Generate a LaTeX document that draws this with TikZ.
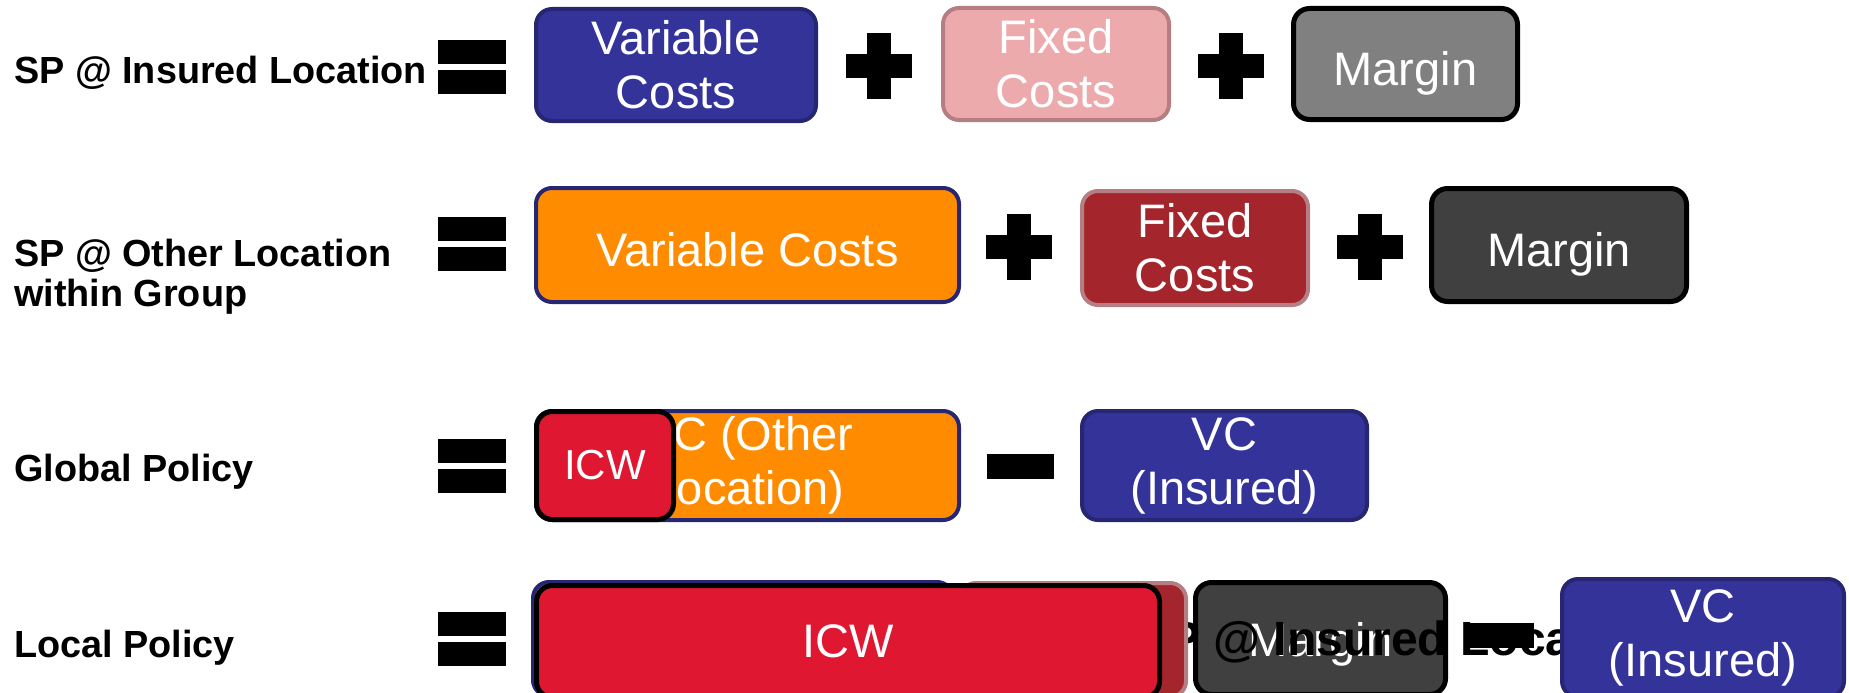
\documentclass[tikz,border=0pt]{standalone}
\usepackage{fontspec}
\setmainfont{Liberation Sans}
\definecolor{navy}{HTML}{262673}
\definecolor{vcblue}{HTML}{333399}
\definecolor{vcorange}{HTML}{FF8C00}
\definecolor{fcpink}{HTML}{ECAAAD}
\definecolor{fcedge}{HTML}{B47E82}
\definecolor{fcdark}{HTML}{A4252B}
\definecolor{mgray}{HTML}{808080}
\definecolor{mdark}{HTML}{404040}
\definecolor{icwred}{HTML}{DF1730}
\begin{document}
\begin{tikzpicture}[x=1pt,y=-1pt,
  box/.style={draw, rounded corners=16pt, line width=4pt, text=white,
    font=\fontsize{47}{54}\selectfont, align=center, inner sep=0pt},
  oneline/.style={text height=45pt, text depth=3pt},
  bluebox/.style={box, fill=vcblue, draw=navy},
  orangebox/.style={box, fill=vcorange, draw=navy},
  pinkbox/.style={box, fill=fcpink, draw=fcedge},
  redfixbox/.style={box, fill=fcdark, draw=fcedge},
  graybox/.style={box, fill=mgray, draw=black, line width=5pt},
  darkbox/.style={box, fill=mdark, draw=black, line width=5pt},
  icwbox/.style={box, fill=icwred, draw=black, line width=5pt},
  lbl/.style={font=\bfseries\fontsize{37.8}{40}\selectfont, inner sep=0pt, anchor=base west, align=left},
  eqbar/.style={fill=black, inner sep=0pt, minimum width=68, minimum height=24},
  hbar/.style={fill=black, inner sep=0pt, minimum width=66, minimum height=24},
  vbar/.style={fill=black, inner sep=0pt, minimum width=24, minimum height=66},
  minusbar/.style={fill=black, inner sep=0pt, minimum width=67, minimum height=25},
  whitetext/.style={text=white, font=\fontsize{47}{54}\selectfont, inner sep=0pt}]
\clip (0,0) rectangle (1849,693);

% row labels
\node[lbl] (l1) at (14,84) {SP @ Insured Location};
\node[lbl, anchor=west] (l2) at (14,277) {SP @ Other Location\\within Group};
\node[lbl] (l3) at (14,481) {Global Policy};
\node[lbl] (l4) at (14,657) {Local Policy};

% equals signs
\node[eqbar] (e1a) at (472,52) {};  \node[eqbar] (e1b) at (472,82) {};
\node[eqbar] (e2a) at (472,229) {}; \node[eqbar] (e2b) at (472,259) {};
\node[eqbar] (e3a) at (472,451) {}; \node[eqbar] (e3b) at (472,481) {};
\node[eqbar] (e4a) at (472,624) {}; \node[eqbar] (e4b) at (472,654) {};

% row 1: insured location
\node[bluebox, minimum width=280, minimum height=112] (vc1) at (676,65) {Variable\\Costs};
\node[hbar] (p1h) at (878.5,66) {}; \node[vbar] (p1v) at (878.5,66) {};
\node[pinkbox, minimum width=226, minimum height=112] (fc1) at (1056,64) {Fixed\\Costs};
\node[hbar] (p2h) at (1230.5,66) {}; \node[vbar] (p2v) at (1230.5,66) {};
\node[graybox, oneline, minimum width=224, minimum height=111] (mg1) at (1405.5,64) {Margin};

% row 2: other location within group
\node[orangebox, oneline, minimum width=423, minimum height=114] (vc2) at (747.5,245) {Variable Costs};
\node[hbar] (p3h) at (1019,247) {}; \node[vbar] (p3v) at (1019,247) {};
\node[redfixbox, minimum width=226, minimum height=114] (fc2) at (1195,248) {Fixed\\Costs};
\node[hbar] (p4h) at (1370,247) {}; \node[vbar] (p4v) at (1370,247) {};
\node[darkbox, oneline, minimum width=255, minimum height=113] (mg2) at (1559,245) {Margin};

% row 3: global policy
\node[orangebox, minimum width=423, minimum height=109] (vc3) at (747.5,465.5) {VC (Other\\Location)};
\node[icwbox, minimum width=137, minimum height=108, font=\fontsize{42}{48}\selectfont] (icw3) at (605,465.5) {ICW};
\node[minusbar] (m3) at (1020,466) {};
\node[bluebox, minimum width=285, minimum height=109] (vi3) at (1224.5,465.5) {VC\\(Insured)};

% row 4: local policy
\node[orangebox, minimum width=420, minimum height=114] (vc4) at (743,639) {};
\node[darkbox, minimum width=250, minimum height=112] (mg4) at (1320.5,638.5) {};
\node[whitetext, anchor=base] (mg4t) at (1320.5,656) {Margin};
\node[font=\bfseries\fontsize{48}{54}\selectfont, inner sep=0pt, anchor=base west] (sp4) at (1136,655) {SP @ Insured Location};
\node[minusbar] (m4) at (1500,635) {};
\node[redfixbox, minimum width=226, minimum height=114] (fc4) at (1073,640) {};
\node[icwbox, minimum width=623, minimum height=112] (icw4) at (848,641.5) {ICW};
\node[bluebox, minimum width=282, minimum height=118] (vi4) at (1703,638) {VC\\(Insured)};
\end{tikzpicture}
\end{document}
